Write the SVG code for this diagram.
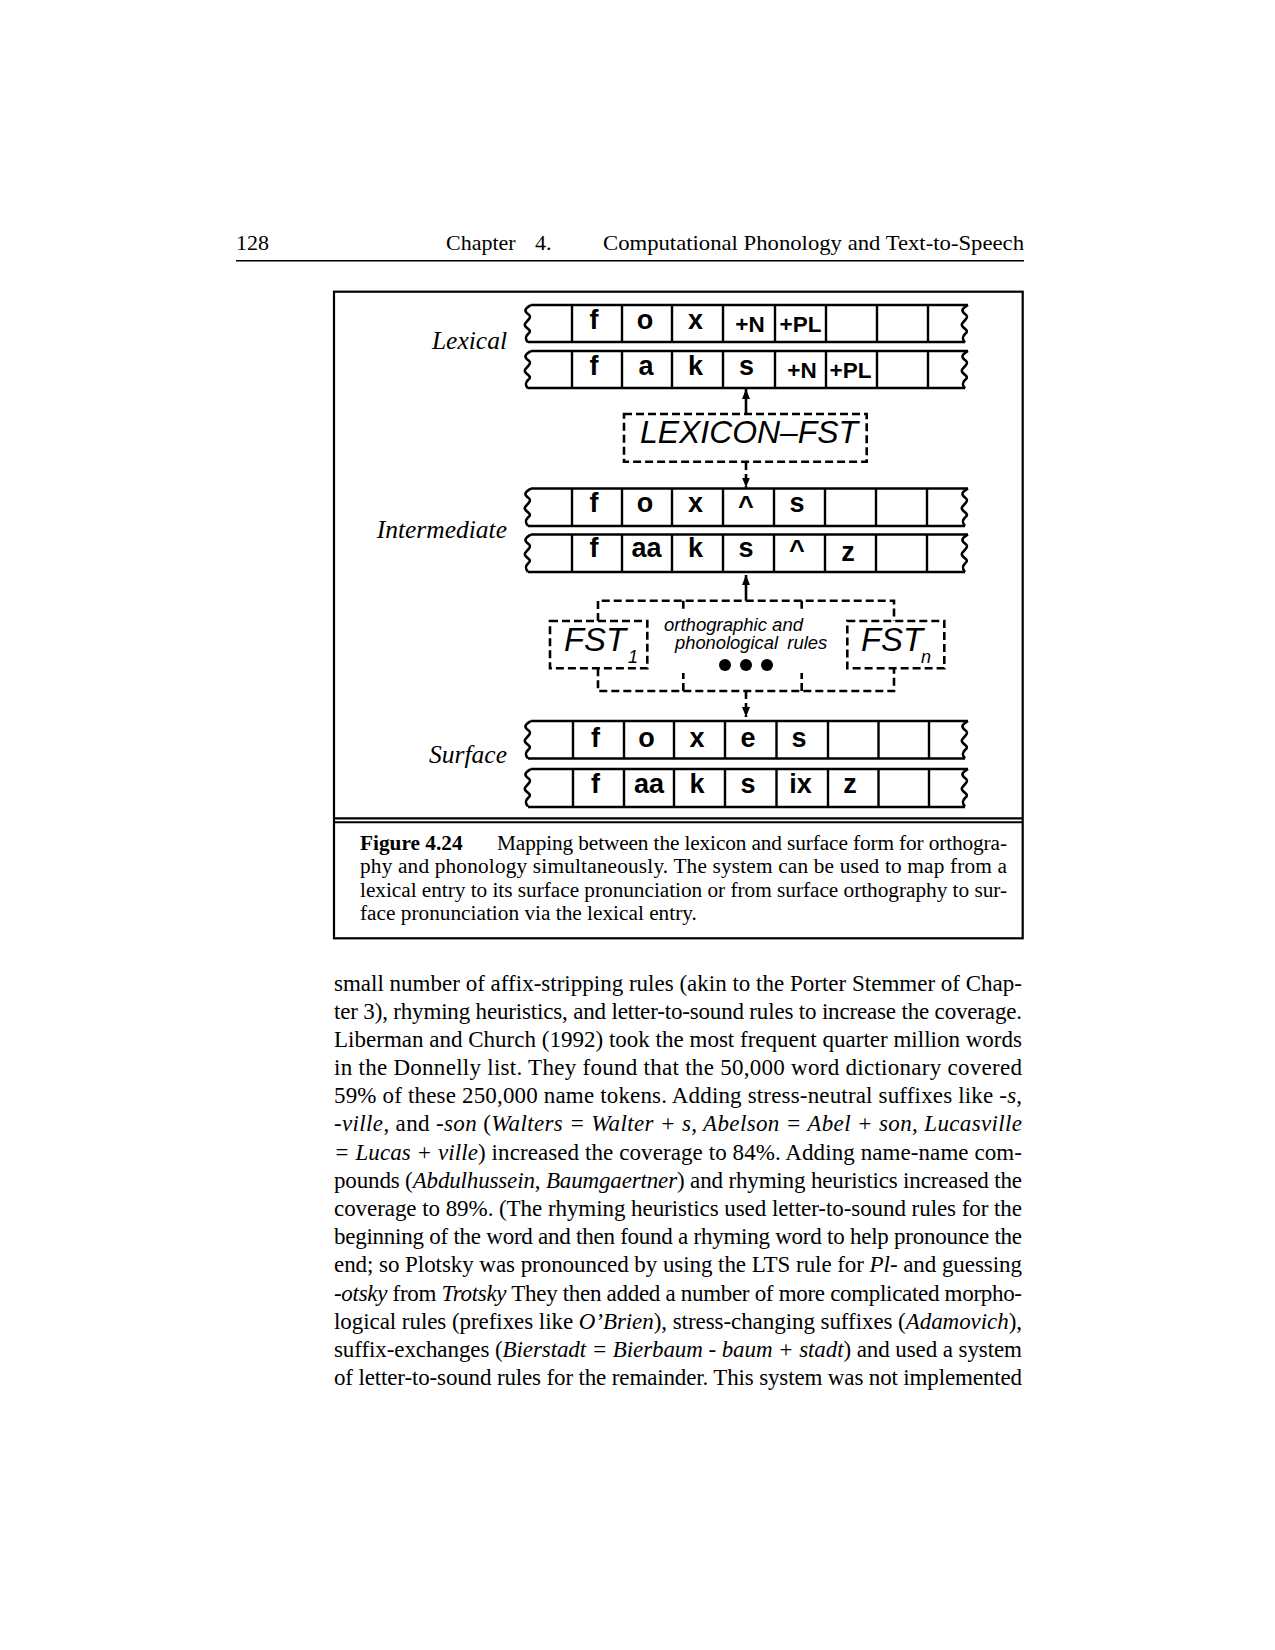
<svg xmlns="http://www.w3.org/2000/svg" xmlns:xlink="http://www.w3.org/1999/xlink" width="1275" height="1650" viewBox="0 0 1275 1650">
<style>
.ln{fill:none;stroke:#000;stroke-width:2.6}
.dv{fill:none;stroke:#000;stroke-width:2.4}
.dash{fill:none;stroke:#000;stroke-width:2.6;stroke-dasharray:8 4}
.tt{font-family:"Liberation Sans",Arial,sans-serif;font-weight:bold;font-size:27px;text-anchor:middle;fill:#000}
.sm{font-size:22.5px}
.lab{font-family:"Liberation Serif","Times New Roman",serif;font-style:italic;font-size:25.5px;text-anchor:end;fill:#000}
.fst{font-family:"Liberation Sans",Arial,sans-serif;font-style:italic;fill:#000}
.serif{font-family:"Liberation Serif","Times New Roman",serif;fill:#000}
.body{font-size:23px}
.cap{font-size:21.3px}
.it{font-style:italic}
</style>
<defs>
<path id="zz" class="ln" d="M0,0 C-3,2 -7,4 -5,7 C-3,10 1,10 -2,14 C-5,18 -8,19 -5,22 C-2,25 1,26 -3,29 C-6,32 -6,34 -3,37.5"/>
<marker id="ah" markerUnits="userSpaceOnUse" markerWidth="10" markerHeight="8" refX="10" refY="4" orient="auto" viewBox="0 0 10 8">
<path d="M0,0 L10,4 L0,8 Z" fill="#000"/>
</marker>
</defs>
<rect width="1275" height="1650" fill="#fff"/>

<g id="header">
<text class="serif" x="236" y="250" font-size="22">128</text>
<text class="serif" x="446" y="250" font-size="22">Chapter</text>
<text class="serif" x="535" y="250" font-size="22">4.</text>
<text class="serif" x="603" y="250" font-size="22" textLength="421" lengthAdjust="spacingAndGlyphs">Computational Phonology and Text-to-Speech</text>
<line x1="236" y1="260.7" x2="1024" y2="260.7" stroke="#000" stroke-width="1.6"/>
</g>

<g id="frame">
<rect x="334" y="291.7" width="688.7" height="646.6" fill="none" stroke="#000" stroke-width="2.2"/>
<line x1="334" y1="818.3" x2="1022.7" y2="818.3" stroke="#000" stroke-width="2.2"/>
<line x1="334" y1="822.3" x2="1022.7" y2="822.3" stroke="#000" stroke-width="2"/>
</g>

<g id="label-lexical"><text class="lab" x="507" y="349">Lexical</text></g>
<g id="label-intermediate"><text class="lab" x="507" y="538">Intermediate</text></g>
<g id="label-surface"><text class="lab" x="507" y="763">Surface</text></g>

<g id="tape-lexical-1">
<path class="ln" d="M531,305 H968 M528,342 H965"/>
<use xlink:href="#zz" x="531" y="305"/><use xlink:href="#zz" x="968" y="305"/>
<path class="dv" d="M572,305V342 M622,305V342 M672,305V342 M723,305V342 M775,305V342 M826,305V342 M877,305V342 M928,305V342"/>
<text class="tt" x="594" y="329">f</text>
<text class="tt" x="645" y="329">o</text>
<text class="tt" x="695.5" y="329">x</text>
<text class="tt sm" x="750" y="332">+N</text>
<text class="tt sm" x="800.5" y="332">+PL</text>
</g>

<g id="tape-lexical-2">
<path class="ln" d="M531,351 H968 M528,388 H965"/>
<use xlink:href="#zz" x="531" y="351"/><use xlink:href="#zz" x="968" y="351"/>
<path class="dv" d="M572,351V388 M622,351V388 M672,351V388 M723,351V388 M775,351V388 M826,351V388 M877,351V388 M928,351V388"/>
<text class="tt" x="594" y="375">f</text>
<text class="tt" x="646" y="375">a</text>
<text class="tt" x="695.5" y="375">k</text>
<text class="tt" x="746.5" y="375">s</text>
<text class="tt sm" x="802" y="378">+N</text>
<text class="tt sm" x="850.5" y="378">+PL</text>
</g>

<g id="lexicon-fst">
<rect class="dash" x="624" y="414" width="242.7" height="47.7"/>
<text class="fst" x="640" y="443.3" font-size="32" textLength="218" lengthAdjust="spacingAndGlyphs">LEXICON–FST</text>
</g>

<g id="tape-intermediate-1">
<path class="ln" d="M531,488.5 H968 M528,526 H965"/>
<use xlink:href="#zz" x="531" y="488.5"/><use xlink:href="#zz" x="968" y="488.5"/>
<path class="dv" d="M572,488.5V526 M622,488.5V526 M672,488.5V526 M723,488.5V526 M774,488.5V526 M825,488.5V526 M876,488.5V526 M927,488.5V526"/>
<text class="tt" x="594" y="512">f</text>
<text class="tt" x="645" y="512">o</text>
<text class="tt" x="695.5" y="512">x</text>
<text class="tt" x="746" y="515">^</text>
<text class="tt" x="797" y="512">s</text>
</g>

<g id="tape-intermediate-2">
<path class="ln" d="M531,534.5 H968 M528,572 H965"/>
<use xlink:href="#zz" x="531" y="534.5"/><use xlink:href="#zz" x="968" y="534.5"/>
<path class="dv" d="M572,534.5V572 M622,534.5V572 M672,534.5V572 M723,534.5V572 M774,534.5V572 M825,534.5V572 M876,534.5V572 M927,534.5V572"/>
<text class="tt" x="594" y="557">f</text>
<text class="tt" x="646.5" y="557">aa</text>
<text class="tt" x="695.5" y="557">k</text>
<text class="tt" x="746" y="557">s</text>
<text class="tt" x="797" y="559">^</text>
<text class="tt" x="848" y="561">z</text>
</g>

<g id="fst-1">
<rect class="dash" x="550" y="621" width="97.3" height="47.3"/>
<text class="fst" x="564" y="651" font-size="33" textLength="62" lengthAdjust="spacingAndGlyphs">FST</text>
<text class="fst" x="628" y="663" font-size="18">1</text>
</g>

<g id="fst-n">
<rect class="dash" x="847.3" y="621" width="97" height="47.3"/>
<text class="fst" x="861" y="651" font-size="33" textLength="62" lengthAdjust="spacingAndGlyphs">FST</text>
<text class="fst" x="921" y="663" font-size="18">n</text>
</g>

<g id="rules">
<text class="fst" x="664" y="631" font-size="17.5" textLength="139" lengthAdjust="spacingAndGlyphs">orthographic and</text>
<text class="fst" x="675" y="649" font-size="17.5" textLength="103" lengthAdjust="spacingAndGlyphs">phonological</text>
<text class="fst" x="787.3" y="649" font-size="17.5" textLength="40" lengthAdjust="spacingAndGlyphs">rules</text>
<circle cx="725" cy="665" r="6"/>
<circle cx="746" cy="665" r="6"/>
<circle cx="767" cy="665" r="6"/>
</g>

<g id="tape-surface-1">
<path class="ln" d="M531,721 H968 M528,758.5 H965"/>
<use xlink:href="#zz" x="531" y="721"/><use xlink:href="#zz" x="968" y="721"/>
<path class="dv" d="M573,721V758.5 M624,721V758.5 M674,721V758.5 M725,721V758.5 M776.5,721V758.5 M828,721V758.5 M878.5,721V758.5 M929,721V758.5"/>
<text class="tt" x="595.5" y="746.5">f</text>
<text class="tt" x="646.5" y="746.5">o</text>
<text class="tt" x="697" y="746.5">x</text>
<text class="tt" x="748" y="746.5">e</text>
<text class="tt" x="799" y="746.5">s</text>
</g>

<g id="tape-surface-2">
<path class="ln" d="M531,769 H968 M528,807 H965"/>
<use xlink:href="#zz" x="531" y="769"/><use xlink:href="#zz" x="968" y="769"/>
<path class="dv" d="M573,769V807 M624,769V807 M674,769V807 M725,769V807 M776.5,769V807 M828,769V807 M878.5,769V807 M929,769V807"/>
<text class="tt" x="595.5" y="793">f</text>
<text class="tt" x="649" y="793">aa</text>
<text class="tt" x="697" y="793">k</text>
<text class="tt" x="748" y="793">s</text>
<text class="tt" x="800.5" y="793">ix</text>
<text class="tt" x="850" y="793">z</text>
</g>

<g id="connectors">
<line class="ln" x1="746" y1="414" x2="746" y2="389" stroke-width="2.2" marker-end="url(#ah)"/>
<line class="dash" x1="746" y1="462" x2="746" y2="487.5" stroke-width="2.2" stroke-dasharray="6 3" marker-end="url(#ah)"/>
<line class="ln" x1="746" y1="600.7" x2="746" y2="575" stroke-width="2.2" marker-end="url(#ah)"/>
<line class="dash" x1="746" y1="691" x2="746" y2="717" stroke-width="2.2" stroke-dasharray="6 3" marker-end="url(#ah)"/>
<path class="dash" d="M598,621 V600.7 H894 V621"/>
<path class="dash" d="M683.3,600.7 V611.7 M801.7,600.7 V611.7"/>
<path class="dash" d="M598,668.3 V691 H894 V668.3"/>
<path class="dash" d="M683.3,691 V673 M801.7,691 V673"/>
</g>

<g id="caption">
<text class="serif cap" x="360" y="850" font-weight="bold">Figure 4.24</text>
<text class="serif cap" x="497" y="850" textLength="510">Mapping between the lexicon and surface form for orthogra-</text>
<text class="serif cap" x="360" y="873.3" textLength="647">phy and phonology simultaneously.  The system can be used to map from a</text>
<text class="serif cap" x="360" y="896.7" textLength="647">lexical entry to its surface pronunciation or from surface orthography to sur-</text>
<text class="serif cap" x="360" y="920">face pronunciation via the lexical entry.</text>
</g>

<g id="body-text">
<text class="serif body" x="334" y="990.5" textLength="688">small number of affix-stripping rules (akin to the Porter Stemmer of Chap-</text>
<text class="serif body" x="334" y="1018.7" textLength="688">ter 3), rhyming heuristics, and letter-to-sound rules to increase the coverage.</text>
<text class="serif body" x="334" y="1046.9" textLength="688">Liberman and Church (1992) took the most frequent quarter million words</text>
<text class="serif body" x="334" y="1075.1" textLength="688">in the Donnelly list.  They found that the 50,000 word dictionary covered</text>
<text class="serif body" x="334" y="1103.2" textLength="688">59% of these 250,000 name tokens.  Adding stress-neutral suffixes like <tspan class="it">-s</tspan>,</text>
<text class="serif body" x="334" y="1131.4" textLength="688"><tspan class="it">-ville</tspan>, and <tspan class="it">-son</tspan> (<tspan class="it">Walters = Walter + s, Abelson = Abel + son, Lucasville</tspan></text>
<text class="serif body" x="334" y="1159.6" textLength="688"><tspan class="it">= Lucas + ville</tspan>) increased the coverage to 84%.  Adding name-name com-</text>
<text class="serif body" x="334" y="1187.8" textLength="688">pounds (<tspan class="it">Abdulhussein</tspan>, <tspan class="it">Baumgaertner</tspan>) and rhyming heuristics increased the</text>
<text class="serif body" x="334" y="1216" textLength="688">coverage to 89%.  (The rhyming heuristics used letter-to-sound rules for the</text>
<text class="serif body" x="334" y="1244.1" textLength="688">beginning of the word and then found a rhyming word to help pronounce the</text>
<text class="serif body" x="334" y="1272.3" textLength="688">end; so Plotsky was pronounced by using the LTS rule for <tspan class="it">Pl-</tspan> and guessing</text>
<text class="serif body" x="334" y="1300.5" textLength="688"><tspan class="it">-otsky</tspan> from <tspan class="it">Trotsky</tspan> They then added a number of more complicated morpho-</text>
<text class="serif body" x="334" y="1328.7" textLength="688">logical rules (prefixes like <tspan class="it">O’Brien</tspan>), stress-changing suffixes (<tspan class="it">Adamovich</tspan>),</text>
<text class="serif body" x="334" y="1356.9" textLength="688">suffix-exchanges (<tspan class="it">Bierstadt = Bierbaum - baum + stadt</tspan>) and used a system</text>
<text class="serif body" x="334" y="1385" textLength="688">of letter-to-sound rules for the remainder. This system was not implemented</text>
</g>
</svg>
